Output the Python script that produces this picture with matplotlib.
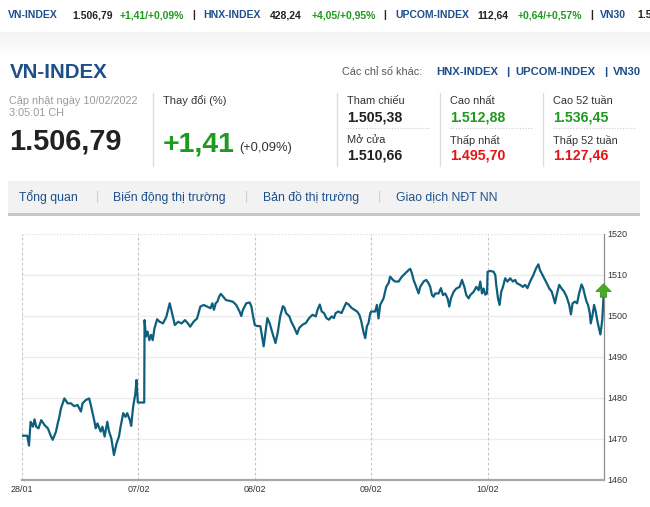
import matplotlib
matplotlib.use("Agg")
import matplotlib.pyplot as plt
from matplotlib.patches import Rectangle
from matplotlib.path import Path

plt.rcParams['font.family'] = ['Liberation Sans', 'DejaVu Sans']

# ---- chart data: intraday VN-INDEX, one list per trading day ----
# time = fraction of the trading session (0 = open, 1 = close)
day_labels = ["28/01", "07/02", "08/02", "09/02", "10/02"]
y_ticks = [1460, 1470, 1480, 1490, 1500, 1510, 1520]

t_d1 = [0, .045, .060, .074, .094, .108, .122, .142, .165, .194, .222, .250, .264, .292, .307,
        .321, .335, .364, .392, .420, .449, .477, .506, .520, .548, .577, .591, .620, .633, .648,
        .676, .691, .710, .733, .748, .767, .790, .812, .833, .847, .870, .889, .904, .927, .938,
        .955, .974, .983, .995]
v_d1 = [1470.8, 1470.8, 1468.4, 1474.2, 1473.0, 1474.8, 1473.0, 1472.6, 1474.6, 1473.4,
        1472.6, 1470.6, 1469.8, 1471.8, 1473.8, 1475.4, 1477.5, 1479.9, 1478.7, 1478.7,
        1478.0, 1478.3, 1476.7, 1478.7, 1479.5, 1479.9, 1478.3, 1474.6, 1472.6, 1473.8,
        1471.8, 1473.0, 1470.6, 1474.2, 1471.8, 1470.2, 1466.1, 1468.9, 1470.6, 1473.0,
        1476.3, 1475.4, 1476.3, 1474.6, 1473.2, 1477.9, 1481.1, 1484.4, 1478.9]

t_d2 = [0, .050, .053, .065, .079, .094, .109, .123, .138, .161, .182, .211, .240, .269, .289,
        .313, .342, .371, .400, .425, .445, .474, .504, .532, .561, .591, .620, .635, .649, .664,
        .679, .693, .708, .728, .752, .781, .811, .840, .869, .884, .898, .927, .956, .971, .986]
v_d2 = [1478.9, 1478.9, 1499.0, 1495.0, 1496.2, 1494.1, 1495.4, 1494.1, 1497.0, 1499.2,
        1498.6, 1498.2, 1499.8, 1503.1, 1500.7, 1497.8, 1498.6, 1498.2, 1499.0, 1498.2,
        1497.4, 1498.6, 1499.4, 1502.3, 1502.7, 1502.3, 1501.9, 1503.1, 1501.5, 1503.1,
        1503.5, 1504.7, 1505.4, 1504.7, 1503.9, 1503.7, 1503.5, 1502.7, 1501.1, 1500.0,
        1501.5, 1503.1, 1503.3, 1502.3, 1499.8]

t_d3 = [0, .014, .048, .076, .108, .127, .156, .178, .199, .218, .241, .255, .269, .297, .312,
        .340, .363, .382, .411, .439, .467, .496, .524, .539, .558, .575, .595, .615, .637, .660,
        .680, .694, .717, .745, .765, .785, .807, .830, .858, .879, .898, .915, .935, .949, .963,
        .977, .992]
v_d3 = [1497.8, 1497.6, 1497.5, 1492.6, 1499.5, 1498.3, 1495.4, 1493.4, 1496.3, 1499.9,
        1502.4, 1502.0, 1500.7, 1499.9, 1498.7, 1497.1, 1495.6, 1497.1, 1497.9, 1498.3,
        1499.5, 1500.3, 1499.9, 1501.5, 1502.8, 1501.1, 1500.7, 1499.5, 1499.1, 1499.9,
        1499.5, 1500.7, 1501.1, 1500.7, 1502.0, 1503.2, 1502.8, 1502.0, 1501.5, 1501.1,
        1500.3, 1498.7, 1495.9, 1494.6, 1497.5, 1498.3, 1500.7]

t_d4 = [0, .034, .049, .063, .077, .106, .129, .149, .163, .187, .206, .235, .264, .292, .321,
        .335, .350, .364, .387, .407, .421, .450, .473, .493, .507, .522, .536, .550, .579, .599,
        .617, .636, .656, .671, .685, .708, .731, .760, .780, .800, .817, .837, .851, .880, .903,
        .923, .937, .952, .966, .980, .995]
v_d4 = [1501.1, 1501.1, 1502.7, 1499.4, 1502.7, 1504.3, 1507.1, 1508.0, 1509.6, 1508.8,
        1508.4, 1508.4, 1509.6, 1510.4, 1511.2, 1511.5, 1510.4, 1508.8, 1507.1, 1505.5,
        1507.1, 1508.4, 1508.8, 1508.0, 1507.1, 1505.1, 1504.7, 1505.5, 1505.5, 1506.8,
        1505.1, 1505.5, 1504.3, 1502.3, 1504.3, 1505.9, 1506.7, 1507.1, 1508.8, 1507.1,
        1505.1, 1504.3, 1505.1, 1505.9, 1507.1, 1506.3, 1508.4, 1505.5, 1506.7, 1505.2,
        1505.5]

t_d5 = [0, .023, .051, .066, .074, .089, .103, .117, .132, .151, .171, .194, .217, .237, .251,
        .279, .303, .322, .342, .365, .393, .416, .436, .450, .479, .508, .530, .550, .564, .579,
        .593, .615, .636, .656, .679, .701, .716, .730, .750, .769, .786, .807, .821, .835, .850,
        .863, .878, .886, .901, .915, .929, .944, .957, .969, .978, .986, 1.0]
v_d5 = [1510.8, 1511.0, 1510.8, 1510.0, 1507.6, 1504.3, 1502.7, 1505.9, 1507.1, 1509.2,
        1508.4, 1509.2, 1508.4, 1508.8, 1508.0, 1507.6, 1507.1, 1507.6, 1506.8, 1508.4,
        1510.0, 1511.6, 1512.6, 1511.2, 1509.6, 1508.0, 1506.7, 1506.0, 1504.7, 1503.1,
        1505.1, 1507.6, 1506.7, 1506.0, 1504.7, 1502.7, 1500.4, 1503.1, 1503.5, 1503.1,
        1505.5, 1507.7, 1506.8, 1505.1, 1503.5, 1502.7, 1500.7, 1498.2, 1500.2, 1502.7,
        1501.1, 1498.6, 1497.0, 1495.5, 1497.4, 1499.4, 1506.8]

# ---- page text ----
ticker_items = [("VN-INDEX", 8, "name"), ("1.506,79", 72, "num"), ("+1,41/+0,09%", 120, "up"),
                ("|", 192, "num"), ("HNX-INDEX", 203, "name"), ("428,24", 270, "num"),
                ("+4,05/+0,95%", 312, "up"), ("|", 383, "num"), ("UPCOM-INDEX", 395, "name"),
                ("112,64", 477, "num"), ("+0,64/+0,57%", 518, "up"), ("|", 590, "num"),
                ("VN30", 600, "name"), ("1.5", 637, "num")]
stat_labels = ["Tham chiếu", "Mở cửa", "Cao nhất", "Thấp nhất", "Cao 52 tuần", "Thấp 52 tuần"]
stat_values = ["1.505,38", "1.510,66", "1.512,88", "1.495,70", "1.536,45", "1.127,46"]
stat_kinds = ["num", "num", "up", "down", "up", "down"]
nav_tabs = ["Tổng quan", "Biến động thị trường", "Bản đồ thị trường", "Giao dịch NĐT NN"]

BLUE = "#1d4f8b"
GREEN = "#1e9a1e"
RED = "#e5141b"
DARK = "#222222"
colors = {"name": BLUE, "num": DARK, "up": GREEN, "down": RED}

fig = plt.figure(figsize=(6.5, 5.07), dpi=100)

# background layer in pixel coordinates
bg = fig.add_axes([0, 0, 1, 1])
bg.set_xlim(0, 650)
bg.set_ylim(507, 0)
bg.axis('off')

# faint band under the ticker
for i in range(26):
    shade = 0.955 + 0.045 * i / 25
    bg.add_patch(Rectangle((0, 32 + i), 650, 1, color=(shade, shade, shade), lw=0))

for text, x, kind in ticker_items:
    bg.text(x, 15, text, fontsize=7.5, fontweight='bold', color=colors[kind], va='center')

bg.text(10, 72, "VN-INDEX", fontsize=14.8, fontweight='bold', color=BLUE, va='center')
bg.text(342, 72, "Các chỉ số khác:", fontsize=7.8, color="#555555", va='center')
for text, x in [("HNX-INDEX", 436), ("|", 506), ("UPCOM-INDEX", 515), ("|", 604), ("VN30", 613)]:
    bg.text(x, 72, text, fontsize=8.1, fontweight='bold', color=BLUE, va='center')

bg.text(9, 101, "Cập nhật ngày 10/02/2022", fontsize=7.8, color="#9a9a9a", va='center')
bg.text(9, 113, "3:05:01 CH", fontsize=7.8, color="#9a9a9a", va='center')
bg.text(9, 142, "1.506,79", fontsize=20.8, fontweight='bold', color=DARK, va='center')
bg.text(163, 101, "Thay đổi (%)", fontsize=8, color="#333333", va='center')
bg.text(163, 144, "+1,41", fontsize=20.5, fontweight='bold', color=GREEN, va='center')
bg.text(239, 148, "(+0,09%)", fontsize=9.3, color="#333333", va='center')

for x in [153, 337, 440, 543]:
    bg.plot([x, x], [93, 166], color="#dddddd", lw=1)

col_x = [347, 450, 553]
for i in range(6):
    cx = col_x[i // 2]
    top = (i % 2 == 0)
    ly = 101 if top else 140
    bg.text(cx, ly, stat_labels[i], fontsize=7.9, color="#333333", va='center')
    bg.text(cx, ly + 16, stat_values[i], fontsize=10.2, fontweight='bold',
            color=colors[stat_kinds[i]], va='center')
    if top:
        bg.plot([cx, cx + 82], [128, 128], color="#cccccc", lw=0.8, ls=(0, (1, 1.5)))

# navigation bar
bg.add_patch(Rectangle((8, 181), 632, 32, color="#f2f2f2", lw=0))
bg.add_patch(Rectangle((8, 213), 632, 3, color="#c8c8c8", lw=0))
nav_x = [19, 113, 263, 396]
for x, name in zip(nav_x, nav_tabs):
    bg.text(x, 197, name, fontsize=8.8, color=BLUE, va='center')
for x in [96, 245, 378]:
    bg.text(x, 197, "|", fontsize=8.8, color="#cccccc", va='center')

# ---- chart ----
ax = fig.add_axes([22 / 650, 1 - 480 / 507, 582 / 650, 246 / 507])
days = [(t_d1, v_d1), (t_d2, v_d2), (t_d3, v_d3), (t_d4, v_d4), (t_d5, v_d5)]
xs, ys = [], []
for d, (tt, vv) in enumerate(days):
    xs += [d + t for t in tt]
    ys += vv

ax.set_xlim(0, len(day_labels))
ax.set_ylim(y_ticks[0], y_ticks[-1])
for y in y_ticks[1:-1]:
    ax.axhline(y, color="#ebebeb", lw=0.9, zorder=0)
ax.axhline(y_ticks[-1], color="#dddddd", lw=0.9, ls=(0, (1, 1.5)), zorder=0)
for d in range(len(day_labels)):
    ax.axvline(d, color="#c4c4c4", lw=0.8, ls=(0, (2.5, 2)), zorder=0)

ax.plot(xs, ys, color="#0e5f7d", lw=1.6, zorder=3, solid_joinstyle='round')

# up arrow on the last value
arrow = Path([(-1, 0), (0, 1), (1, 0), (0.42, 0), (0.42, -0.75), (-0.42, -0.75),
              (-0.42, 0), (-1, 0)], closed=True)
ax.plot(xs[-1] - 0.012, ys[-1] - 0.7, marker=arrow, markersize=11, color="#48aa25",
        markeredgecolor="#2f8a18", markeredgewidth=0.5, clip_on=False, zorder=5)

for side in ['left', 'top']:
    ax.spines[side].set_visible(False)
ax.spines['right'].set_color("#8c8c8c")
ax.spines['right'].set_linewidth(0.9)
ax.spines['bottom'].set_color("#a8a8a8")
ax.spines['bottom'].set_linewidth(1.6)

ax.yaxis.tick_right()
ax.set_yticks(y_ticks)
ax.set_yticklabels([str(v) for v in y_ticks])
ax.set_xticks(range(len(day_labels)))
ax.set_xticklabels(day_labels)
ax.tick_params(axis='y', length=0, pad=2.5, labelsize=6.5, labelcolor="#333333")
ax.tick_params(axis='x', length=0, pad=3.5, labelsize=6.5, labelcolor="#333333")

fig.savefig("out.png", dpi=100)
